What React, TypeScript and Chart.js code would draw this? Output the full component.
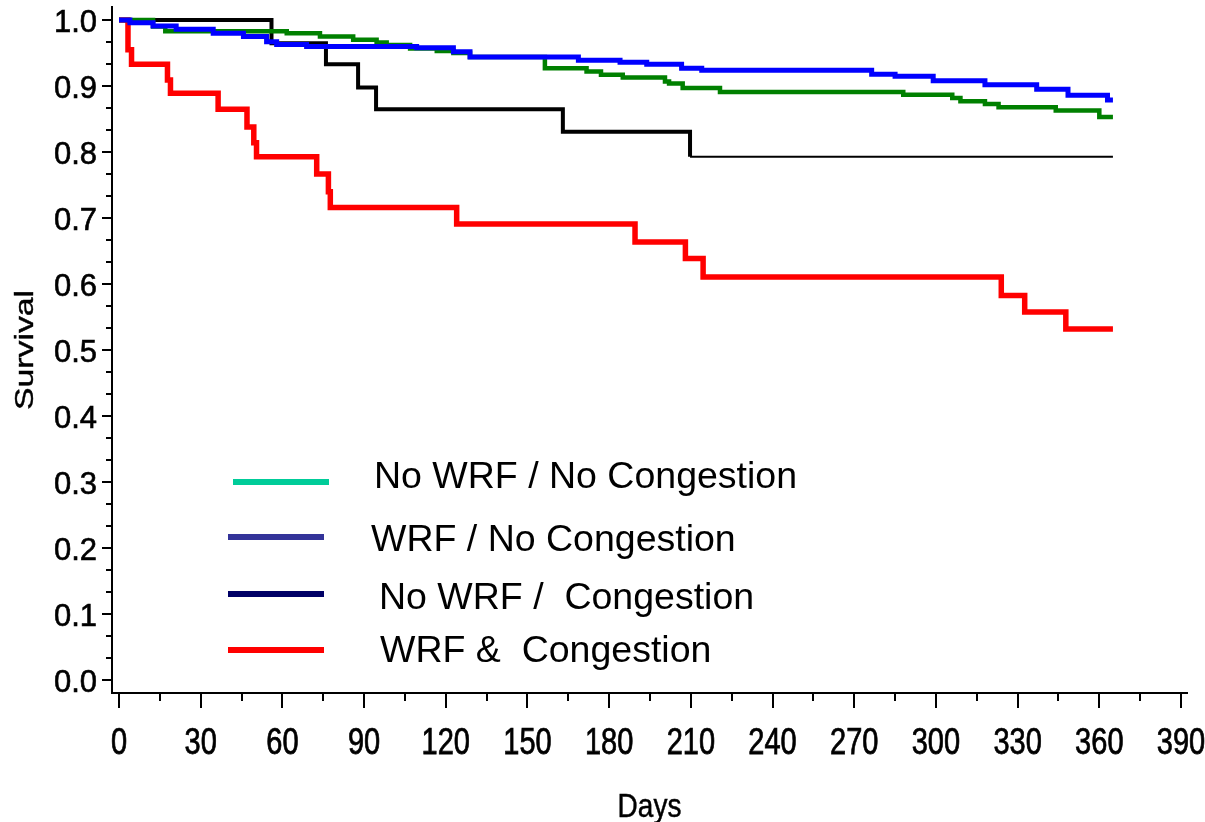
import { useEffect, useRef } from "react";
import { Chart, registerables } from "chart.js";

Chart.register(...registerables);

const FONT_FAMILY = "'Liberation Sans', Arial, Helvetica, sans-serif";

// Kaplan–Meier steps: the day of each step and the survival from that day on
const noWrfNoCongDays = [0, 12.5, 17, 61.6, 73.8, 86, 94.6, 98.3, 106.9, 116.7, 122.8, 128.9, 156.4, 171.7, 177, 185, 200.5, 202, 207, 220.7, 288, 306, 309, 318, 323, 344, 360, 365];
const noWrfNoCongSurv = [1, 0.99, 0.983, 0.98, 0.975, 0.97, 0.966, 0.962, 0.957, 0.953, 0.95, 0.944, 0.927, 0.922, 0.917, 0.913, 0.907, 0.904, 0.897, 0.891, 0.887, 0.882, 0.877, 0.873, 0.868, 0.863, 0.853, 0.853];

const wrfNoCongDays = [0, 4, 12.5, 21, 34.6, 45.7, 54.2, 57.9, 68.9, 109.3, 122.8, 128.9, 168.7, 184, 193.8, 206.6, 214, 276.4, 285, 299, 318, 337, 348.5, 363, 365];
const wrfNoCongSurv = [1, 0.996, 0.991, 0.986, 0.98, 0.975, 0.967, 0.963, 0.96, 0.958, 0.952, 0.944, 0.939, 0.936, 0.933, 0.927, 0.924, 0.918, 0.915, 0.908, 0.902, 0.895, 0.886, 0.879, 0.879];

const noWrfCongDays = [0, 56, 76, 87.8, 94.4, 163, 209.7, 365];
const noWrfCongSurv = [1, 0.965, 0.933, 0.898, 0.865, 0.831, 0.793, 0.793];

const wrfCongDays = [0, 3.3, 4.6, 17.8, 18.9, 36.4, 47, 49.5, 50.5, 72.6, 76.9, 77.6, 124, 189.5, 208, 214.5, 324, 332.6, 347.7, 365];
const wrfCongSurv = [1, 0.955, 0.933, 0.909, 0.889, 0.865, 0.838, 0.814, 0.793, 0.767, 0.74, 0.716, 0.691, 0.664, 0.639, 0.611, 0.583, 0.558, 0.532, 0.532];

const groupLabels = ["No WRF / No Congestion", "WRF / No Congestion", "No WRF /  Congestion", "WRF &  Congestion"];
const curveColors = ["#008000", "#0000ff", "#000000", "#ff0000"];
const legendColors = ["#00cc99", "#333399", "#000066", "#ff0000"];

const xTickValues = [0, 30, 60, 90, 120, 150, 180, 210, 240, 270, 300, 330, 360, 390];
const yTickValues = [0, 0.1, 0.2, 0.3, 0.4, 0.5, 0.6, 0.7, 0.8, 0.9, 1.0];
const xTitle = "Days";
const yTitle = "Survival";

const toPoints = (days: number[], surv: number[]) => days.map((d, i) => ({ x: d, y: surv[i] }));

// Draws text with a separate horizontal / vertical stretch of the glyphs
function stretchedText(
  ctx: CanvasRenderingContext2D,
  text: string,
  x: number,
  y: number,
  sx: number,
  sy: number,
  rotation = 0,
  weight = 0
) {
  ctx.save();
  ctx.translate(x, y);
  if (rotation) ctx.rotate(rotation);
  ctx.scale(sx, sy);
  ctx.fillText(text, 0, 0);
  if (weight > 0) {
    ctx.lineWidth = weight;
    ctx.strokeText(text, 0, 0);
  }
  ctx.restore();
}

// Major and minor tick marks on both axes, tick labels and axis titles
const axisPlugin = {
  id: "axisDecor",
  afterDraw(chart: any) {
    const { ctx, chartArea } = chart;
    const xs = chart.scales.x;
    const ys = chart.scales.y;
    ctx.save();
    ctx.strokeStyle = "#000";
    ctx.lineWidth = 2;
    ctx.beginPath();
    xTickValues.forEach((v, i) => {
      const px = Math.round(xs.getPixelForValue(v));
      ctx.moveTo(px, chartArea.bottom);
      ctx.lineTo(px, chartArea.bottom + 15);
      if (i < xTickValues.length - 1) {
        const m = Math.round(xs.getPixelForValue((v + xTickValues[i + 1]) / 2));
        ctx.moveTo(m, chartArea.bottom);
        ctx.lineTo(m, chartArea.bottom + 8);
      }
    });
    yTickValues.forEach((v, i) => {
      const py = Math.round(ys.getPixelForValue(v));
      ctx.moveTo(chartArea.left, py);
      ctx.lineTo(chartArea.left - 10, py);
      if (i < yTickValues.length - 1) {
        const step = (yTickValues[i + 1] - v) / 3;
        for (let k = 1; k < 3; k++) {
          const m = Math.round(ys.getPixelForValue(v + step * k));
          ctx.moveTo(chartArea.left, m);
          ctx.lineTo(chartArea.left - 6, m);
        }
      }
    });
    ctx.stroke();

    ctx.fillStyle = "#000";
    ctx.strokeStyle = "#000";
    ctx.textBaseline = "alphabetic";

    // x tick labels
    ctx.font = `29px ${FONT_FAMILY}`;
    ctx.textAlign = "center";
    xTickValues.forEach((v) => {
      const px = xs.getPixelForValue(v);
      stretchedText(ctx, String(v), px, chartArea.bottom + 61, 1, 1.25, 0, 0.6);
    });

    // y tick labels
    ctx.font = `31px ${FONT_FAMILY}`;
    ctx.textAlign = "right";
    yTickValues.forEach((v) => {
      const py = ys.getPixelForValue(v);
      stretchedText(ctx, v.toFixed(1), chartArea.left - 15, py + 11.5, 1, 1.04, 0, 0.6);
    });

    // axis titles
    ctx.font = `28px ${FONT_FAMILY}`;
    ctx.textAlign = "center";
    stretchedText(ctx, xTitle, (chartArea.left + chartArea.right) / 2, chartArea.bottom + 124, 1, 1.2, 0, 0.4);

    ctx.font = `26px ${FONT_FAMILY}`;
    stretchedText(ctx, yTitle, 33, (chartArea.top + chartArea.bottom) / 2, 1.3, 1, -Math.PI / 2, 0.4);
    ctx.restore();
  },
};

// Legend block placed inside the plot area
const legendRows = [
  { x0: 233, x1: 329, lineY: 482, textX: 374, baseY: 488 },
  { x0: 228, x1: 324, lineY: 537, textX: 371, baseY: 551 },
  { x0: 228, x1: 324, lineY: 594, textX: 379, baseY: 609 },
  { x0: 228, x1: 324, lineY: 650, textX: 380, baseY: 662 },
];

const legendPlugin = {
  id: "groupLegend",
  afterDraw(chart: any) {
    const { ctx } = chart;
    ctx.save();
    ctx.font = `37.5px ${FONT_FAMILY}`;
    ctx.textBaseline = "alphabetic";
    ctx.textAlign = "left";
    legendRows.forEach((r, i) => {
      ctx.strokeStyle = legendColors[i];
      ctx.lineWidth = 6;
      ctx.lineCap = "butt";
      ctx.beginPath();
      ctx.moveTo(r.x0, r.lineY);
      ctx.lineTo(r.x1, r.lineY);
      ctx.stroke();
      ctx.fillStyle = "#000";
      ctx.fillText(groupLabels[i], r.textX, r.baseY);
    });
    ctx.restore();
  },
};

export default function App() {
  const canvasRef = useRef<HTMLCanvasElement | null>(null);

  useEffect(() => {
    const canvas = canvasRef.current;
    if (!canvas) return;

    const series = [
      { days: wrfNoCongDays, surv: wrfNoCongSurv, idx: 1, width: 5 },
      { days: noWrfNoCongDays, surv: noWrfNoCongSurv, idx: 0, width: 4.5 },
      { days: noWrfCongDays, surv: noWrfCongSurv, idx: 2, width: 4 },
      { days: wrfCongDays, surv: wrfCongSurv, idx: 3, width: 5.5 },
    ];

    const chart = new Chart(canvas, {
      type: "line",
      data: {
        datasets: series.map((s, order) => ({
          label: groupLabels[s.idx],
          data: toPoints(s.days, s.surv),
          borderColor: curveColors[s.idx],
          borderWidth: s.width,
          stepped: "before" as const,
          pointRadius: 0,
          fill: false,
          order,
          borderJoinStyle: "miter" as const,
          segment:
            s.idx === 2
              ? { borderWidth: (c: any) => (c.p0.parsed.x >= 209 ? 2 : 4) }
              : undefined,
        })),
      },
      options: {
        animation: false,
        responsive: false,
        maintainAspectRatio: false,
        layout: { padding: { top: 7, right: 18, left: 0, bottom: 0 } },
        plugins: { legend: { display: false }, tooltip: { enabled: false } },
        scales: {
          x: {
            type: "linear",
            min: -2.57,
            max: 392.2,
            afterBuildTicks: (s: any) => {
              s.ticks = xTickValues.map((v) => ({ value: v }));
            },
            afterFit: (s: any) => {
              s.height = 129;
              s.paddingLeft = 0;
              s.paddingRight = 0;
            },
            grid: { display: false },
            border: { display: true, color: "#000", width: 2 },
            ticks: { display: false },
          },
          y: {
            type: "linear",
            min: -0.019,
            max: 1.0197,
            afterBuildTicks: (s: any) => {
              s.ticks = yTickValues.map((v) => ({ value: v }));
            },
            afterFit: (s: any) => {
              s.width = 112;
              s.paddingTop = 0;
              s.paddingBottom = 0;
            },
            grid: { display: false },
            border: { display: true, color: "#000", width: 2 },
            ticks: { display: false },
          },
        },
      },
      plugins: [axisPlugin, legendPlugin],
    });

    return () => chart.destroy();
  }, []);

  return (
    <div style={{ position: "fixed", left: 0, top: 0, width: 1205, height: 822, background: "#fff" }}>
      <canvas ref={canvasRef} width={1205} height={822} style={{ display: "block" }} />
    </div>
  );
}
